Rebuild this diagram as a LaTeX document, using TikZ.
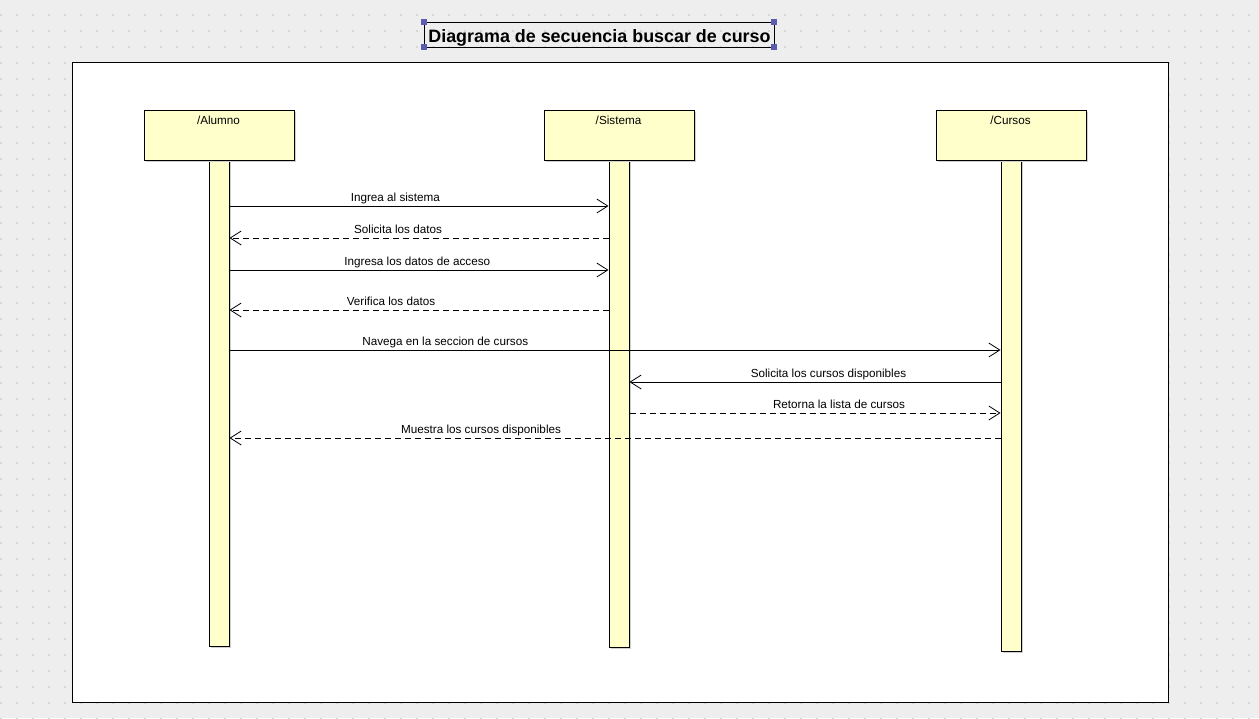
\documentclass[tikz,border=0pt]{standalone}
\usepackage{fontspec}
\setmainfont{Liberation Sans}
\usetikzlibrary{arrows.meta,shadows}
\definecolor{bg}{HTML}{EEEEEE}
\definecolor{dotc}{HTML}{D6D6D6}
\definecolor{lifefill}{HTML}{FFFFCC}
\definecolor{shadowc}{HTML}{CFCFCF}
\definecolor{handlec}{HTML}{5B5BAF}
\begin{document}
\begin{tikzpicture}[x=1pt,y=-1pt,
  lbl/.style={font=\fontsize{11.7}{13}\selectfont, anchor=base, inner sep=0pt},
  shadowed/.style={drop shadow={shadow xshift=2pt, shadow yshift=-2pt, fill=shadowc, opacity=1}},
  headbox/.style={draw, line width=1pt, fill=lifefill, minimum width=150pt, minimum height=50pt, inner sep=0pt, shadowed},
  lifebar/.style={draw, line width=1pt, fill=lifefill, minimum width=20pt, inner sep=0pt, shadowed},
  sync/.style={line width=0.9pt, -{Straight Barb[length=11pt,width=14pt,line width=0.8pt]}},
  reply/.style={sync, dash pattern=on 6pt off 4pt},
  handle/.style={fill=handlec}
]
\useasboundingbox (0,0) rectangle (1259,718);
% background with dot grid
\fill[bg] (0,0) rectangle (1259,718);
\foreach \i in {0,...,78}{\foreach \j in {0,...,44}{\fill[dotc] ({16*\i},{14+16*\j}) rectangle +(2,2);}}
% diagram frame
\draw[fill=white, line width=1pt] (72,62) rectangle (1168,702);
% title
\node[draw, line width=0.8pt, minimum width=350pt, minimum height=25pt, inner sep=0pt] (title) at (599,34.5) {};
\node[anchor=base, inner sep=0pt, font=\bfseries\fontsize{17.9}{20}\selectfont] (titletext) at (599.5,42) {Diagrama de secuencia buscar de curso};
\foreach \c in {north west, north east, south west, south east}{
  \fill[handle] (title.\c) +(-3,-3) rectangle +(3,3);
}
% lifelines
\node[lifebar, minimum height=486pt] (al) at (219,403) {};
\node[lifebar, minimum height=487pt] (si) at (619,403.5) {};
\node[lifebar, minimum height=491pt] (cu) at (1011,405.5) {};
% heads
\node[headbox] (alh) at (219,135) {};
\node[headbox] (sih) at (619,135) {};
\node[headbox] (cuh) at (1011,135) {};
\node[lbl] (alt) at (218.5,124) {/Alumno};
\node[lbl] (sit) at (618.5,124) {/Sistema};
\node[lbl] (cut) at (1010.5,124) {/Cursos};
% messages
\draw[sync]  (al.east |- 0,206) -- (si.west |- 0,206);
\node[lbl] (m1) at (395.3,201.5) {Ingrea al sistema};
\draw[reply] (si.west |- 0,238) -- (al.east |- 0,238);
\node[lbl] (m2) at (398,233.5) {Solicita los datos};
\draw[sync]  (al.east |- 0,270) -- (si.west |- 0,270);
\node[lbl] (m3) at (417.3,265.5) {Ingresa los datos de acceso};
\draw[reply] (si.west |- 0,310) -- (al.east |- 0,310);
\node[lbl] (m4) at (391,305.5) {Verifica los datos};
\draw[sync]  (al.east |- 0,350) -- (cu.west |- 0,350);
\node[lbl] (m5) at (445.3,345.5) {Navega en la seccion de cursos};
\draw[sync]  (cu.west |- 0,382) -- (si.east |- 0,382);
\node[lbl] (m6) at (828.5,377.5) {Solicita los cursos disponibles};
\draw[reply] (si.east |- 0,413) -- (cu.west |- 0,413);
\node[lbl] (m7) at (839,408.5) {Retorna la lista de cursos};
\draw[reply] (cu.west |- 0,438) -- (al.east |- 0,438);
\node[lbl] (m8) at (481,433.5) {Muestra los cursos disponibles};
\end{tikzpicture}
\end{document}
